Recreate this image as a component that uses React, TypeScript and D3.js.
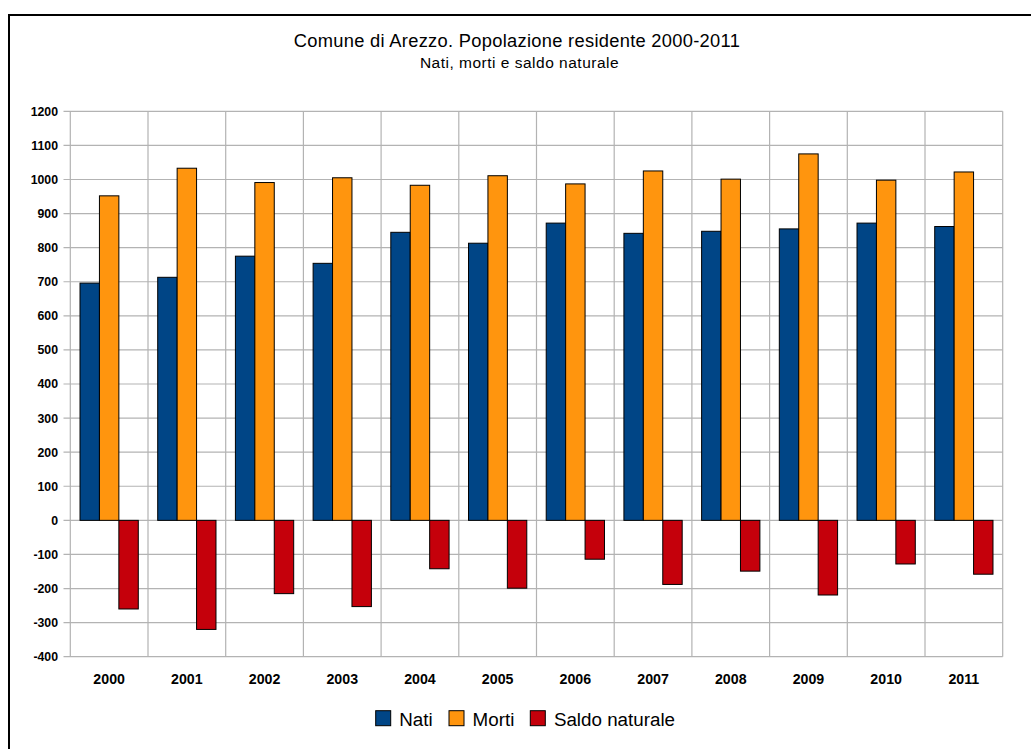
import React from "react";
import * as d3 from "d3";

// Comune di Arezzo – births, deaths and natural balance per year
const years = ["2000", "2001", "2002", "2003", "2004", "2005", "2006", "2007", "2008", "2009", "2010", "2011"];
const nati = [696, 713, 775, 754, 845, 813, 872, 842, 848, 855, 872, 862];
const morti = [952, 1033, 991, 1005, 983, 1011, 987, 1025, 1001, 1075, 998, 1022];
const saldo = [-260, -320, -215, -253, -142, -199, -114, -188, -149, -219, -128, -158];
const seriesNames = ["Nati", "Morti", "Saldo naturale"];
const seriesColors = ["#004586", "#ff950e", "#c5000b"];
const yTicks = d3.range(-400, 1201, 100);

const W = 1031;
const H = 749;
const plot = { left: 70.3, right: 1002.7, top: 111.3, bottom: 656.7 };
const FONT = "'Liberation Sans', Arial, sans-serif";

export default function App() {
  const x0 = d3
    .scaleBand<string>()
    .domain(years)
    .range([plot.left, plot.right])
    .paddingInner(0.25)
    .paddingOuter(0.125);
  const x1 = d3.scaleBand<string>().domain(seriesNames).range([0, x0.bandwidth()]).padding(0);
  const y = d3.scaleLinear().domain([-400, 1200]).range([plot.bottom, plot.top]);

  const values = [nati, morti, saldo];
  const step = x0.step();
  const boundaries = d3.range(years.length + 1).map((i) => plot.left + i * step);

  const legendX = [375.7, 449, 530.3];

  return (
    <svg
      width={W}
      height={H}
      viewBox={`0 0 ${W} ${H}`}
      style={{ position: "absolute", left: 0, top: 0, display: "block", background: "#fff" }}
      fontFamily={FONT}
    >
      <rect x={0} y={0} width={W} height={H} fill="#fff" />
      {/* outer frame */}
      <path d={`M9,${H} V15 H${W}`} fill="none" stroke="#000" strokeWidth={2} />

      {/* titles */}
      <text x={517} y={47.3} textAnchor="middle" fontSize={18.3} letterSpacing={0.3} fill="#000">
        Comune di Arezzo. Popolazione residente 2000-2011
      </text>
      <text x={519.5} y={67.7} textAnchor="middle" fontSize={15.5} letterSpacing={0.5} fill="#000">
        Nati, morti e saldo naturale
      </text>

      {/* horizontal grid + y ticks */}
      {yTicks.map((t) => (
        <g key={t}>
          <line x1={63.5} x2={plot.right} y1={y(t)} y2={y(t)} stroke="#b3b3b3" strokeWidth={1.2} />
          <text
            x={58}
            y={y(t)}
            dy="0.36em"
            textAnchor="end"
            fontSize={12.3}
            fontWeight="bold"
            fill="#000"
          >
            {t}
          </text>
        </g>
      ))}

      {/* vertical grid at category boundaries */}
      {boundaries.map((bx, i) => (
        <line key={i} x1={bx} x2={bx} y1={plot.top} y2={plot.bottom} stroke="#b3b3b3" strokeWidth={1.2} />
      ))}

      {/* bars */}
      {years.map((yr, i) => (
        <g key={yr} transform={`translate(${x0(yr)},0)`}>
          {seriesNames.map((s, k) => {
            const v = values[k][i];
            const top = y(Math.max(0, v));
            const bot = y(Math.min(0, v));
            return (
              <rect
                key={s}
                x={x1(s)}
                y={top}
                width={x1.bandwidth()}
                height={bot - top}
                fill={seriesColors[k]}
                stroke="#000"
                strokeWidth={1}
              />
            );
          })}
        </g>
      ))}

      {/* x labels */}
      {years.map((yr) => (
        <text
          key={yr}
          x={(x0(yr) as number) + x0.bandwidth() / 2}
          y={683.7}
          textAnchor="middle"
          fontSize={14.2}
          fontWeight="bold"
          fill="#000"
        >
          {yr}
        </text>
      ))}

      {/* legend */}
      {seriesNames.map((s, k) => (
        <g key={s} transform={`translate(${legendX[k]},710.7)`}>
          <rect x={0} y={0} width={15} height={15} fill={seriesColors[k]} stroke="#000" strokeWidth={1} />
          <text x={23.6} y={15} fontSize={18.8} fill="#000">
            {s}
          </text>
        </g>
      ))}
    </svg>
  );
}
